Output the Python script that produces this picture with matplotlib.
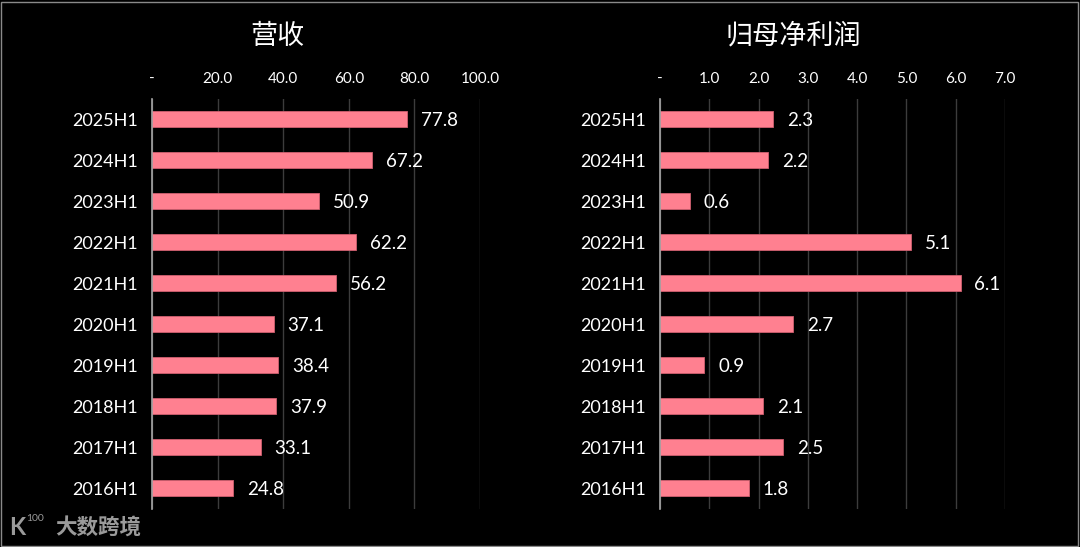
import matplotlib
matplotlib.use('Agg')
import matplotlib.pyplot as plt
from matplotlib.patches import Rectangle

plt.rcParams['font.family'] = ['Lato', 'Noto Sans CJK SC', 'DejaVu Sans']

# Data (top to bottom)
periods = ['2025H1', '2024H1', '2023H1', '2022H1', '2021H1',
           '2020H1', '2019H1', '2018H1', '2017H1', '2016H1']
revenue = [77.8, 67.2, 50.9, 62.2, 56.2, 37.1, 38.4, 37.9, 33.1, 24.8]
net_profit = [2.3, 2.2, 0.6, 5.1, 6.1, 2.7, 0.9, 2.1, 2.5, 1.8]

rev_ticks = [0, 20, 40, 60, 80, 100]
np_ticks = [0, 1, 2, 3, 4, 5, 6, 7]

bar_color = '#FF8090'
bg = 'black'

fig = plt.figure(figsize=(10.8, 5.47), dpi=100, facecolor=bg)


def tick_fmt(v):
    return '-' if v == 0 else f'{v:.1f}'


def draw_panel(rect, values, ticks):
    ax = fig.add_axes(rect)
    ax.set_facecolor(bg)
    y = list(range(len(periods)))
    ax.barh(y, values, height=0.38, color=bar_color, edgecolor='#d06070',
            linewidth=0.6, zorder=3)
    ax.set_ylim(len(periods) - 0.5, -0.5)
    ax.set_xlim(ticks[0], ticks[-1])
    ax.set_yticks(y)
    ax.set_yticklabels(periods, color='white', fontsize=13)
    ax.xaxis.tick_top()
    ax.set_xticks(ticks)
    ax.set_xticklabels([tick_fmt(t) for t in ticks], color='white', fontsize=11)
    ax.tick_params(axis='both', length=0)
    ax.tick_params(axis='x', pad=9)
    ax.tick_params(axis='y', pad=10)
    ax.grid(axis='x', color='#3c3c3c', linewidth=1, zorder=0)
    for s in ['top', 'right', 'bottom']:
        ax.spines[s].set_visible(False)
    ax.spines['left'].set_color('#a8a8a8')
    ax.spines['left'].set_linewidth(1.2)
    ax.spines['left'].set_zorder(4)
    for yi, v in zip(y, values):
        ax.annotate(f'{v:.1f}', (v, yi), xytext=(10, -1), textcoords='offset points',
                    va='center', ha='left', color='white', fontsize=13.5)
    return ax


draw_panel([0.1407, 0.0703, 0.3037, 0.7495], revenue, rev_ticks)
draw_panel([0.6111, 0.0703, 0.3194, 0.7495], net_profit, np_ticks)

fig.text(0.257, 0.934, '营收', color='white', fontsize=19.5, ha='center', va='center',
         family=['Noto Sans CJK SC'])
fig.text(0.735, 0.934, '归母净利润', color='white', fontsize=19.5, ha='center', va='center',
         family=['Noto Sans CJK SC'])

# watermark
fig.text(0.008, 0.035, 'K', color='#9a9a9a', fontsize=17, fontweight='bold',
         ha='left', va='center')
fig.text(0.024, 0.052, '100', color='#9a9a9a', fontsize=7.5, ha='left', va='center')
fig.text(0.051, 0.035, '大数跨境', color='#9a9a9a', fontsize=15.5, ha='left', va='center',
         family=['Noto Sans CJK SC'], fontweight='bold')

# thin frame
fig.patches.append(Rectangle((0.001, 0.002), 0.997, 0.995, transform=fig.transFigure,
                             fill=False, edgecolor='#8a8a8a', linewidth=1))

fig.savefig('out.png', dpi=100, facecolor=bg)
